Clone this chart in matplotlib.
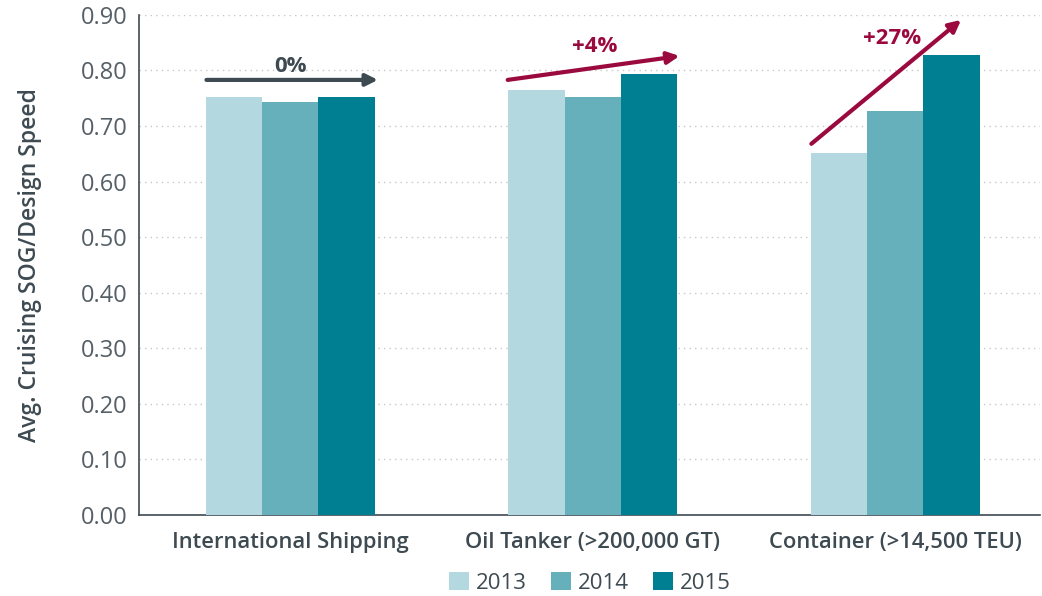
import numpy as np
import matplotlib.pyplot as plt

plt.rcParams['font.family'] = ['Open Sans', 'DejaVu Sans']

# data
categories = ['International Shipping', 'Oil Tanker (>200,000 GT)', 'Container (>14,500 TEU)']
years = ['2013', '2014', '2015']
v2013 = [0.752, 0.765, 0.652]
v2014 = [0.743, 0.752, 0.727]
v2015 = [0.752, 0.794, 0.828]
changes = ['0%', '+4%', '+27%']

colors = ['#b3d8df', '#66b0bc', '#007e92']
grey = '#3e4a52'
crimson = '#9b0a3e'

fig = plt.figure(figsize=(10.42, 5.96), dpi=100)
ax = fig.add_axes([0.1334, 0.136, 0.865, 0.839])

x = np.arange(len(categories))
w = 0.186
for i, (vals, yr) in enumerate(zip([v2013, v2014, v2015], years)):
    ax.bar(x + (i - 1) * w, vals, w, color=colors[i], label=yr, zorder=3)

ax.set_xlim(-0.5, 2.48)
ax.set_ylim(0, 0.9)
ax.set_yticks(np.arange(0, 0.91, 0.1))
ax.set_yticklabels([f'{t:.2f}' for t in np.arange(0, 0.91, 0.1)])
ax.set_xticks(x)
ax.set_xticklabels(categories, fontsize=15.8, fontweight='semibold', color=grey)
ax.tick_params(axis='y', labelsize=17, labelcolor='#555f66', length=0, pad=8)
ax.tick_params(axis='x', length=0, pad=12)
ax.yaxis.grid(True, linestyle=(0, (1, 3)), color='#c8c8c8', linewidth=1, zorder=0)
ax.set_axisbelow(True)
for s in ['top', 'right']:
    ax.spines[s].set_visible(False)
for s in ['left', 'bottom']:
    ax.spines[s].set_color(grey)
    ax.spines[s].set_linewidth(1.2)
ax.set_ylabel('Avg. Cruising SOG/Design Speed', fontsize=16.5, fontweight='semibold',
              color=grey, labelpad=28)

# trend arrows
arrows = [((-0.277, 0.783), (0.29, 0.783), grey),
          ((0.719, 0.783), (1.287, 0.826), crimson),
          ((1.723, 0.668), (2.218, 0.891), crimson)]
label_pos = [(0.0, 0.808), (1.007, 0.844), (1.99, 0.858)]
for (start, end, c), (lx, ly), txt in zip(arrows, label_pos, changes):
    ax.annotate('', xy=end, xytext=start,
                arrowprops=dict(arrowstyle='-|>,head_length=0.7,head_width=0.35',
                                color=c, lw=3, shrinkA=0, shrinkB=0), zorder=5)
    ax.text(lx, ly, txt, ha='center', va='center', fontsize=16,
            fontweight='bold', color=c, zorder=5)

leg = fig.legend(loc='lower center', bbox_to_anchor=(0.566, -0.03), ncol=3, frameon=False,
                 fontsize=16, handlelength=0.9, handleheight=0.9, handletextpad=0.3,
                 columnspacing=1.1)
for t in leg.get_texts():
    t.set_color(grey)

fig.savefig('out.png', dpi=100)
